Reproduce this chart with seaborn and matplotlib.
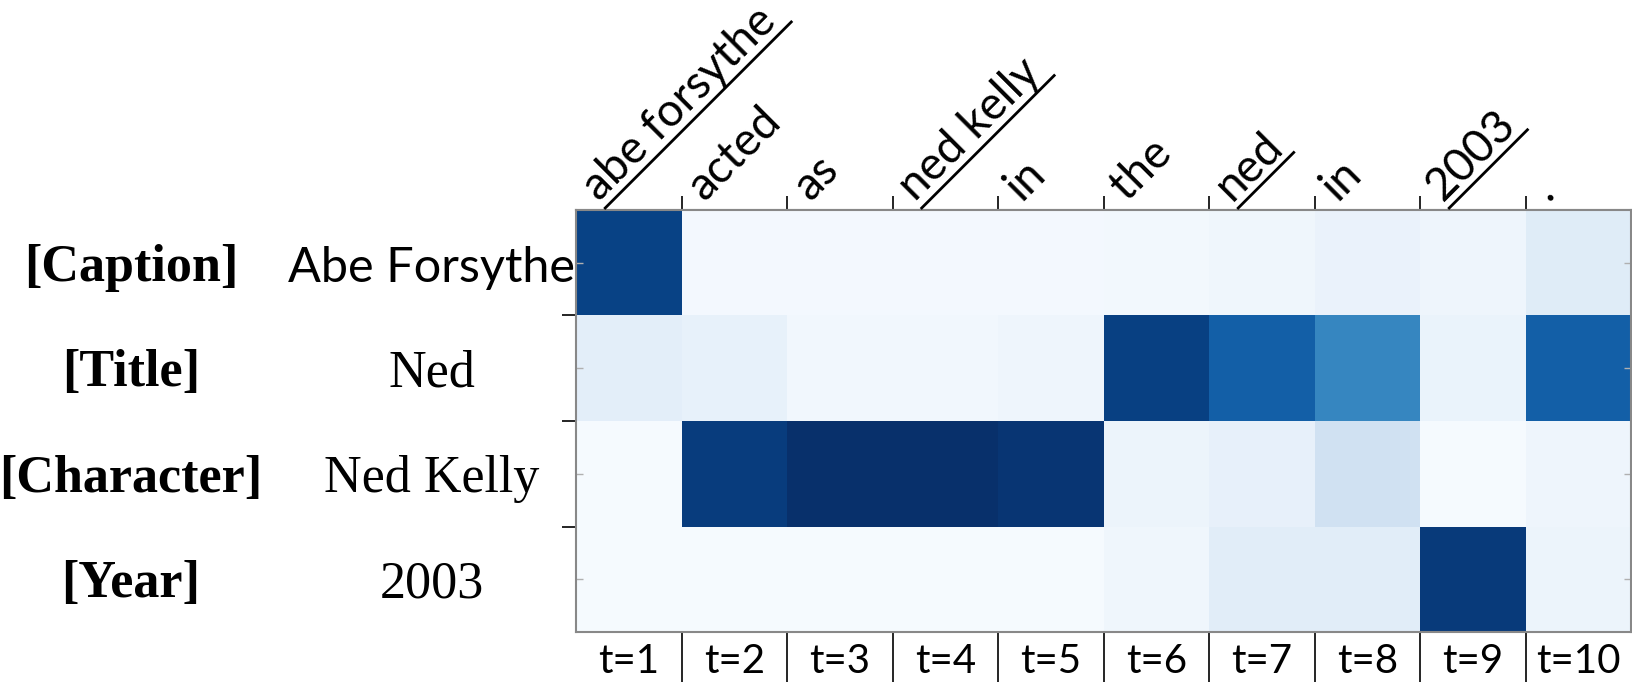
import numpy as np
import pandas as pd
import matplotlib
matplotlib.use("Agg")
import matplotlib.pyplot as plt
import matplotlib.transforms as mtransforms
from matplotlib.lines import Line2D
from matplotlib.font_manager import FontProperties
import seaborn as sns

# ---------------- data ----------------
field_names = ["[Caption]", "[Title]", "[Character]", "[Year]"]
field_values = ["Abe Forsythe", "Ned", "Ned Kelly", "2003"]
tokens = ["abe forsythe", "acted", "as", "ned kelly", "in", "the", "ned", "in", "2003", "."]
underlined = [True, False, False, True, False, False, True, False, True, False]
steps = ["t=1", "t=2", "t=3", "t=4", "t=5", "t=6", "t=7", "t=8", "t=9", "t=10"]

caption = [0.93, 0.02, 0.02, 0.02, 0.02, 0.025, 0.04, 0.07, 0.045, 0.12]
title = [0.10, 0.08, 0.035, 0.035, 0.045, 0.94, 0.82, 0.67, 0.065, 0.82]
character = [0.01, 0.95, 1.00, 1.00, 0.98, 0.055, 0.085, 0.20, 0.01, 0.05]
year = [0.01, 0.01, 0.01, 0.01, 0.01, 0.04, 0.11, 0.11, 0.96, 0.055]

# ---------------- figure ----------------
W, H = 1632, 682
fig = plt.figure(figsize=(W / 100, H / 100), dpi=100)
ax = fig.add_axes([576 / W, 50 / H, 1055 / W, 422 / H])

df = pd.DataFrame([caption, title, character, year], index=field_names, columns=steps)
sns.heatmap(df, cmap="Blues", vmin=0, vmax=1, cbar=False, ax=ax, linewidths=0)

n_rows, n_cols = df.shape
sans = ["Lato", "DejaVu Sans"]
serif = ["Liberation Serif", "DejaVu Serif"]

# x axis (bottom): long separators at column boundaries, labels centred
ax.set_xticks(np.arange(1, n_cols))
ax.set_xticklabels([])
ax.set_xticks(np.arange(n_cols) + 0.5, minor=True)
ax.set_xticklabels(steps, minor=True, fontsize=29, family=sans, rotation=0)
ax.tick_params(axis="x", which="major", bottom=True, top=False, length=50,
               width=1.2, color="black", direction="out")
ax.tick_params(axis="x", which="minor", bottom=True, top=False, length=0, pad=8)
ax.set_xlabel("")

# y axis: short ticks at row boundaries
ax.set_yticks(np.arange(1, n_rows))
ax.set_yticklabels([])
ax.set_yticks(np.arange(n_rows) + 0.5, minor=True)
ax.set_yticklabels([], minor=True)
ax.tick_params(axis="y", which="major", left=True, right=False, length=10,
               width=1.2, color="black", direction="out")
ax.tick_params(axis="y", which="minor", left=True, right=True, length=5,
               width=1, color="#b0b0b0", direction="in")
ax.set_ylabel("")

# top ticks
secax = ax.secondary_xaxis("top")
secax.set_xticks(np.arange(1, n_cols))
secax.set_xticklabels([])
secax.set_xticks(np.arange(n_cols) + 0.5, minor=True)
secax.set_xticklabels([], minor=True)
secax.tick_params(which="major", length=10, width=1.2, color="black", direction="out")
secax.tick_params(which="minor", length=5, width=1, color="#b0b0b0", direction="in")
for s in secax.spines.values():
    s.set_color("#888888")
    s.set_linewidth(1.5)

for s in ax.spines.values():
    s.set_visible(True)
    s.set_color("#888888")
    s.set_linewidth(1.5)

# left-hand field names and values
trans = mtransforms.blended_transform_factory(fig.transFigure, ax.transData)
trans = mtransforms.offset_copy(trans, fig=fig, x=0, y=-5, units="dots")
value_fonts = [sans, serif, serif, serif]
for i, (name, val) in enumerate(zip(field_names, field_values)):
    ax.text(131 / W, i + 0.5, name, transform=trans, ha="center", va="center",
            family=serif, weight="bold", fontsize=37.5)
    ax.text(432 / W, i + 0.5, val, transform=trans, ha="center", va="center",
            family=value_fonts[i], fontsize=37.5 if value_fonts[i] is serif else 35)

# top rotated token labels with underlines
fig.canvas.draw()
renderer = fig.canvas.get_renderer()
fp = FontProperties(family=sans, size=33)
ang = np.deg2rad(45)
for i, (tok, ul) in enumerate(zip(tokens, underlined)):
    px, py = ax.transData.transform((i + 0.22, 0))
    ay = py + 8
    fig.text(px / W, ay / H, tok, rotation=45, rotation_mode="anchor",
             ha="left", va="baseline", fontproperties=fp)
    if ul:
        w, h, d = renderer.get_text_width_height_descent(tok, fp, ismath=False)
        sx, sy = px + 6, ay - 6
        L = w * 1.04
        ex, ey = sx + L * np.cos(ang), sy + L * np.sin(ang)
        fig.add_artist(Line2D([sx / W, ex / W], [sy / H, ey / H],
                              transform=fig.transFigure, color="black", lw=2))

fig.savefig("out.png", dpi=100)
